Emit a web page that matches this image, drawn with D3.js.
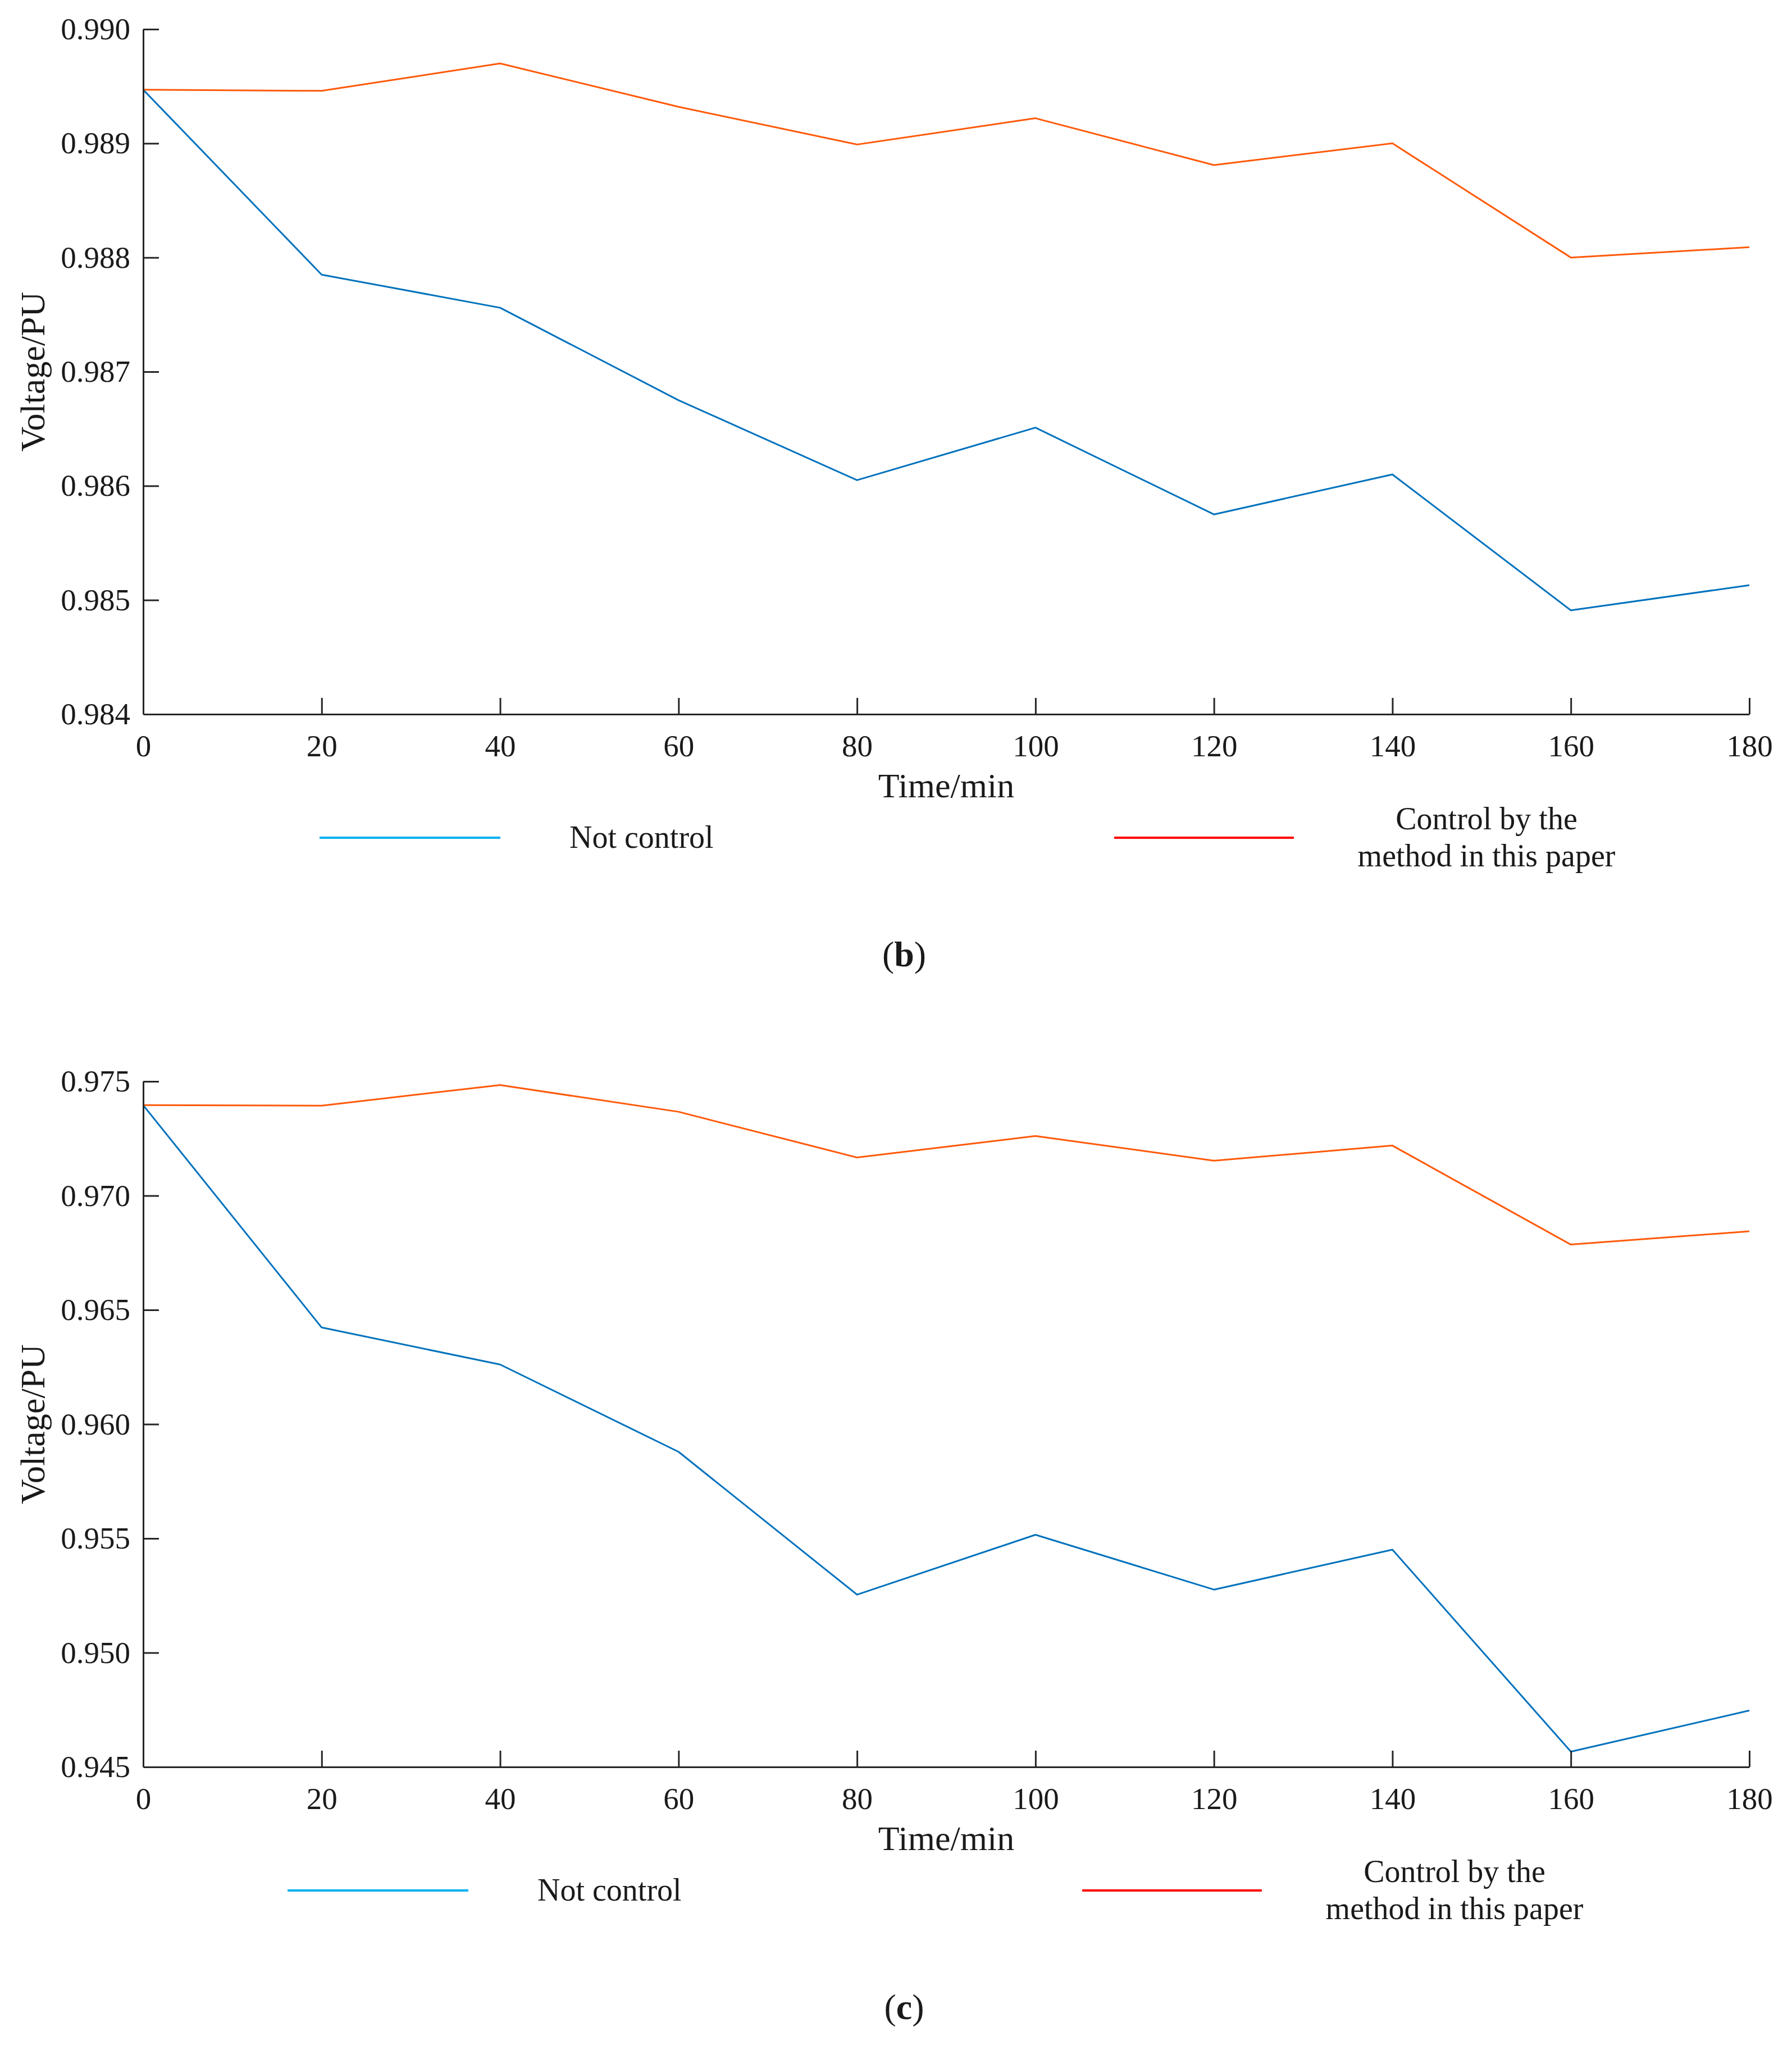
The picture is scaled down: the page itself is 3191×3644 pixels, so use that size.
<!DOCTYPE html>
<html>
<head>
<meta charset="utf-8">
<script src="https://cdn.jsdelivr.net/npm/d3@7"></script>
<style>
  html, body { margin: 0; padding: 0; background: #ffffff; }
  svg { display: block; }
  text { font-family: "Liberation Serif", "Times New Roman", serif; fill: #1a1a1a; }
</style>
</head>
<body>
<svg id="chart" width="3191" height="3644"></svg>
<script>
// ---------------- data ----------------
const timeMin = [0, 20, 40, 60, 80, 100, 120, 140, 160, 180];
const xTickValues = [0, 20, 40, 60, 80, 100, 120, 140, 160, 180];

// panel (b)
const notControlB = [0.98947, 0.98785, 0.98756, 0.98675, 0.98605, 0.98651, 0.98575, 0.98610, 0.98491, 0.98513];
const controlB    = [0.98947, 0.98946, 0.98970, 0.98932, 0.98899, 0.98922, 0.98881, 0.98900, 0.98800, 0.98809];
const yTicksB     = [0.984, 0.985, 0.986, 0.987, 0.988, 0.989, 0.990];

// panel (c)
const notControlC = [0.97396, 0.96423, 0.96261, 0.95879, 0.95254, 0.95516, 0.95276, 0.95451, 0.94567, 0.94747];
const controlC    = [0.97396, 0.97394, 0.97484, 0.97367, 0.97167, 0.97261, 0.97153, 0.97219, 0.96786, 0.96844];
const yTicksC     = [0.945, 0.950, 0.955, 0.960, 0.965, 0.970, 0.975];

const seriesNames = ["Not control", "Control by the|method in this paper"];
const panelLabels = ["b", "c"];
const xTitle = "Time/min";
const yTitle = "Voltage/PU";

// ---------------- drawing ----------------
const svg = d3.select("#chart");
svg.append("rect").attr("width", 3191).attr("height", 3644).attr("fill", "#ffffff");

const AXIS_COLOR = "#262626";
const LINE_BLUE = "#0072BD";
const LINE_ORANGE = "#FF5A0A";
const LEG_BLUE = "#00B0F0";
const LEG_RED = "#FF0000";

const panels = [
  { top: 52,   bottom: 1272, notCtrl: notControlB, ctrl: controlB, ticks: yTicksB, label: panelLabels[0], legShift: 0 },
  { top: 1926, bottom: 3147, notCtrl: notControlC, ctrl: controlC, ticks: yTicksC, label: panelLabels[1], legShift: -57 }
];

const left = 255, right = 3115;

panels.forEach(p => {
  const x = d3.scaleLinear().domain([0, 180]).range([left, right]);
  const y = d3.scaleLinear().domain([d3.min(p.ticks), d3.max(p.ticks)]).range([p.bottom, p.top]);
  const g = svg.append("g");

  // lines
  const line = d3.line().x((d, i) => x(timeMin[i])).y(d => y(d));
  g.append("path").datum(p.notCtrl).attr("d", line)
    .attr("fill", "none").attr("stroke", LINE_BLUE).attr("stroke-width", 3).attr("stroke-linejoin", "round");
  g.append("path").datum(p.ctrl).attr("d", line)
    .attr("fill", "none").attr("stroke", LINE_ORANGE).attr("stroke-width", 3).attr("stroke-linejoin", "round");

  // y axis
  const yAxis = d3.axisLeft(y).tickValues(p.ticks).tickFormat(d3.format(".3f"))
    .tickSizeInner(-28).tickSizeOuter(0).tickPadding(23);
  const ya = g.append("g").attr("transform", `translate(${left},0)`).call(yAxis);
  ya.selectAll("path, line").attr("stroke", AXIS_COLOR).attr("stroke-width", 3);
  ya.selectAll("text").attr("font-size", 55).attr("fill", "#1a1a1a")
    .style("font-family", '"Liberation Serif", "Times New Roman", serif');

  // x axis
  const xAxis = d3.axisBottom(x).tickValues(xTickValues).tickFormat(d3.format("d"))
    .tickSizeInner(-29).tickSizeOuter(0).tickPadding(36);
  const xa = g.append("g").attr("transform", `translate(0,${p.bottom})`).call(xAxis);
  xa.selectAll("path, line").attr("stroke", AXIS_COLOR).attr("stroke-width", 3);
  xa.selectAll("text").attr("font-size", 55).attr("fill", "#1a1a1a")
    .style("font-family", '"Liberation Serif", "Times New Roman", serif');
  xa.selectAll(".tick").filter(d => d === 0).select("line").remove();
  ya.selectAll(".tick").filter(d => d === d3.min(p.ticks)).select("line").remove();

  // axis titles
  g.append("text").attr("x", (left + right) / 2).attr("y", p.bottom + 148)
    .attr("text-anchor", "middle").attr("font-size", 62).text(xTitle);
  g.append("text")
    .attr("transform", `translate(58,${(p.top + p.bottom) / 2}) rotate(-90)`)
    .attr("text-anchor", "middle").attr("dominant-baseline", "central")
    .attr("font-size", 62).text(yTitle);

  // legend
  const ly = p.bottom + 220;
  const s = p.legShift;
  g.append("line").attr("x1", 569 + s).attr("x2", 891 + s).attr("y1", ly).attr("y2", ly)
    .attr("stroke", LEG_BLUE).attr("stroke-width", 4);
  g.append("text").attr("x", 1014 + s).attr("y", ly + 18).attr("font-size", 56).text(seriesNames[0]);
  g.append("line").attr("x1", 1984 + s).attr("x2", 2304 + s).attr("y1", ly).attr("y2", ly)
    .attr("stroke", LEG_RED).attr("stroke-width", 4);
  const parts = seriesNames[1].split("|");
  parts.forEach((t, i) => {
    g.append("text").attr("x", 2647 + s).attr("y", ly - 15 + i * 66)
      .attr("text-anchor", "middle").attr("font-size", 56).text(t);
  });

  // panel label
  const lab = g.append("text").attr("x", 1610).attr("y", p.bottom + 449)
    .attr("text-anchor", "middle").attr("font-size", 64);
  lab.append("tspan").text("(");
  lab.append("tspan").attr("font-weight", "bold").text(p.label);
  lab.append("tspan").text(")");
});
</script>
</body>
</html>
